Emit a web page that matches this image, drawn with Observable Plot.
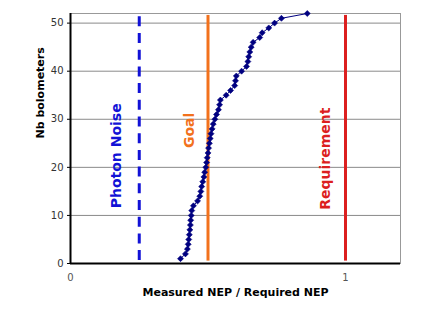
<!DOCTYPE html>
<html>
<head>
<meta charset="utf-8">
<script src="https://cdn.jsdelivr.net/npm/d3@7"></script>
<script src="https://cdn.jsdelivr.net/npm/@observablehq/plot@0.6"></script>
<style>
  html, body { margin: 0; padding: 0; background: #fff; }
  #chart svg { display: block; }
</style>
</head>
<body>
<div id="chart"></div>
<script>
// Data
const nbBolometers = [1,2,3,4,5,6,7,8,9,10,11,12,13,14,15,16,17,18,19,20,21,22,23,24,25,26,
  27,28,29,30,31,32,33,34,35,36,37,38,39,40,41,42,43,44,45,46,47,48,49,50,51,52];
const measuredNEP = [0.400,0.418,0.425,0.428,0.430,0.432,0.434,0.436,0.437,0.439,0.441,0.447,
  0.462,0.470,0.474,0.477,0.481,0.485,0.488,0.492,0.495,0.497,0.500,0.502,0.505,0.508,
  0.511,0.515,0.519,0.525,0.531,0.538,0.542,0.545,0.566,0.582,0.597,0.600,0.603,0.622,
  0.640,0.645,0.648,0.652,0.657,0.664,0.688,0.697,0.721,0.742,0.767,0.861];

const refNames = ["Photon Noise", "Goal", "Requirement"];
const refValues = [0.25, 0.5, 1.0];
const refColors = ["#1212d6", "#f2711c", "#dc1f1f"];
// label anchor positions (data coords)
const refLabelX = [0.169, 0.433, 0.927];
const refLabelY = [22.4, 27.7, 21.8];

const yTicks = [0, 10, 20, 30, 40, 50];
const xTicks = [0, 1];
const xTickLabels = ["0", "1"];
const xTitle = "Measured NEP / Required NEP";
const yTitle = "Nb bolometers";

const points = nbBolometers.map((n, i) => ({n, v: measuredNEP[i]}));
const refs = refNames.map((name, i) => ({name, v: refValues[i], color: refColors[i], lx: refLabelX[i], ly: refLabelY[i]}));

const chart = Plot.plot({
  width: 437,
  height: 316,
  marginLeft: 70,
  marginRight: 37,
  marginTop: 13,
  marginBottom: 53,
  style: {fontFamily: "'DejaVu Sans', Verdana, sans-serif", fontSize: "10px", color: "#333", background: "#fff"},
  x: {domain: [0, 1.2]},
  y: {domain: [0, 52]},
  marks: [
    Plot.gridY(yTicks.filter(d => d > 0), {stroke: "#8a8a8a", strokeOpacity: 1, strokeWidth: 1}),
    Plot.frame({stroke: "#999"}),
    Plot.axisY(yTicks, {tickSize: 3, tickPadding: 4, label: null, stroke: "#000"}),
    Plot.axisX(xTicks, {tickSize: 0, tickPadding: 10, label: null, tickFormat: (d, i) => xTickLabels[i], fill: "#555"}),
    // vertical reference lines
    Plot.ruleX(refs.filter(d => d.name === "Photon Noise"), {x: "v", y1: 0.6, y2: 51.6, stroke: "color", strokeWidth: 3, strokeDasharray: "10,6.7"}),
    Plot.ruleX(refs.filter(d => d.name !== "Photon Noise"), {x: "v", y1: 0.5, y2: 51.6, stroke: "color", strokeWidth: 3}),
    Plot.text(refs, {x: "lx", y: "ly", text: "name", fill: "color", rotate: -90, fontSize: 14, fontWeight: "bold"}),
    // data
    Plot.line(points, {x: "v", y: "n", stroke: "#000080", strokeWidth: 1}),
    Plot.dot(points, {x: "v", y: "n", symbol: "diamond2", r: 2.7, fill: "#000080", stroke: "#000080", strokeWidth: 0.6}),
    // axes lines
    Plot.ruleX([0], {stroke: "#000", strokeWidth: 2}),
    Plot.ruleY([0], {stroke: "#000", strokeWidth: 2}),
    // axis titles
    Plot.text([xTitle], {frameAnchor: "bottom", dy: 32, fontWeight: "bold", fontSize: 11, fill: "#000"}),
    Plot.text([yTitle], {frameAnchor: "left", dx: -30, rotate: -90, fontWeight: "bold", fontSize: 11, fill: "#000"})
  ]
});
document.getElementById("chart").appendChild(chart);
</script>
</body>
</html>
